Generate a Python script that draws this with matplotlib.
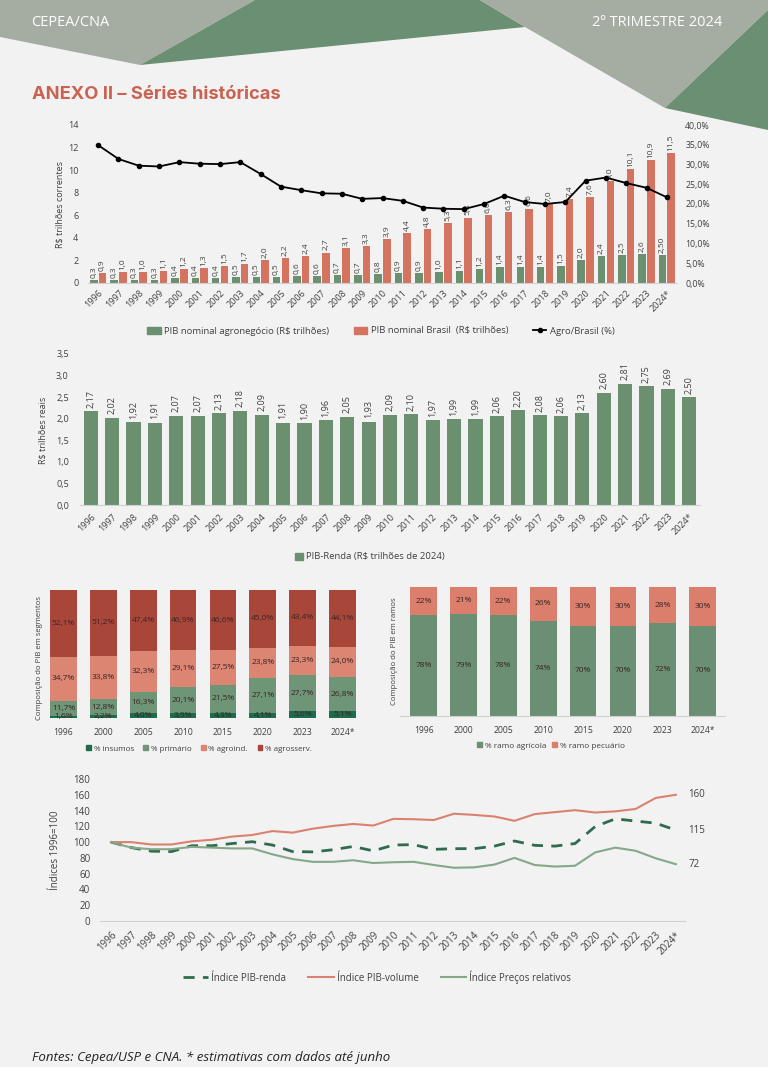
import matplotlib
matplotlib.use('Agg')
import matplotlib.pyplot as plt
from matplotlib.patches import Polygon, Patch
from matplotlib.lines import Line2D
from matplotlib.ticker import FuncFormatter
import numpy as np

W, H = 768, 1067
plt.rcParams['font.family'] = ['Open Sans', 'DejaVu Sans']

# ---------------- data ----------------
years = [str(y) for y in range(1996, 2024)] + ['2024*']
agro_nominal = [0.3, 0.3, 0.3, 0.3, 0.4, 0.4, 0.4, 0.5, 0.5, 0.5, 0.6, 0.6, 0.7, 0.7, 0.8,
                0.9, 0.9, 1.0, 1.1, 1.2, 1.4, 1.4, 1.4, 1.5, 2.0, 2.4, 2.5, 2.6, 2.50]
brasil_nominal = [0.9, 1.0, 1.0, 1.1, 1.2, 1.3, 1.5, 1.7, 2.0, 2.2, 2.4, 2.7, 3.1, 3.3, 3.9,
                  4.4, 4.8, 5.3, 5.8, 6.0, 6.3, 6.6, 7.0, 7.4, 7.6, 9.0, 10.1, 10.9, 11.5]
agro_share = [34.9, 31.4, 29.7, 29.5, 30.6, 30.2, 30.1, 30.6, 27.6, 24.4, 23.5, 22.7, 22.6, 21.3,
              21.5, 20.8, 19.1, 18.8, 18.7, 20.0, 22.1, 20.5, 20.0, 20.5, 25.9, 26.7, 25.3, 24.1, 21.7]

pib_renda = [2.17, 2.02, 1.92, 1.91, 2.07, 2.07, 2.13, 2.18, 2.09, 1.91, 1.90, 1.96, 2.05, 1.93,
             2.09, 2.10, 1.97, 1.99, 1.99, 2.06, 2.20, 2.08, 2.06, 2.13, 2.60, 2.81, 2.75, 2.69, 2.50]

seg_years = ['1996', '2000', '2005', '2010', '2015', '2020', '2023', '2024*']
seg_insumos = [1.6, 2.2, 4.0, 3.9, 4.3, 4.1, 5.6, 5.1]
seg_primario = [11.7, 12.8, 16.3, 20.1, 21.5, 27.1, 27.7, 26.8]
seg_agroind = [34.7, 33.8, 32.3, 29.1, 27.5, 23.8, 23.3, 24.0]
seg_agrosserv = [52.1, 51.2, 47.4, 46.9, 46.6, 45.0, 43.4, 44.1]

ramo_agricola = [78, 79, 78, 74, 70, 70, 72, 70]
ramo_pecuario = [22, 21, 22, 26, 30, 30, 28, 30]

idx_renda = [100, 93.1, 88.5, 88.0, 95.4, 95.4, 98.2, 100.5, 96.3, 88.0, 87.6, 90.3, 94.5, 88.9,
             96.3, 96.8, 90.8, 91.7, 91.7, 94.9, 101.4, 95.9, 94.9, 98.2, 119.8, 129.5, 126.7, 124.0, 115.2]
idx_volume = [100, 100, 97, 97, 101, 103, 107, 109, 114, 112, 117, 120.5, 123, 121,
              129.5, 129, 128, 136, 134.5, 132.5, 127, 135.5, 138, 140.5, 137.5, 139, 142, 156, 160]
idx_precos = [100, 93, 91, 91, 94, 93, 92, 92, 84.5, 78.5, 75, 75, 77, 73.5,
              74.5, 75, 71, 67.5, 68, 71.5, 80, 71, 69, 70, 87, 93, 89, 79.5, 72]

# ---------------- style ----------------
BG = '#f2f2f2'
GREEN = '#6a9070'
RED = '#d4735f'
TXT = '#404040'
AXLINE = '#d0d0d0'

fig = plt.figure(figsize=(W / 100, H / 100), dpi=100, facecolor=BG)


def add_ax(l, t, r, b):
    ax = fig.add_axes([l / W, 1 - b / H, (r - l) / W, (b - t) / H])
    ax.set_facecolor('none')
    for s in ax.spines.values():
        s.set_visible(False)
    return ax


def ftext(x, y, s, **kw):
    return fig.text(x / W, 1 - y / H, s, **kw)


def fpoly(pts, color):
    p = Polygon([(x / W, 1 - y / H) for x, y in pts], closed=True, transform=fig.transFigure,
                facecolor=color, edgecolor='none', zorder=0)
    fig.patches.append(p)


def comma(v, d=1):
    return f"{v:.{d}f}".replace('.', ',')


# ---------------- header ----------------
LIGHT = '#a5ada2'
DARK = '#6b8f72'
fpoly([(0, 0), (255, 0), (140, 65), (0, 37)], LIGHT)
fpoly([(255, 0), (480, 0), (525, 27), (140, 65)], DARK)
fpoly([(480, 0), (768, 0), (768, 10), (665, 108), (525, 27)], LIGHT)
fpoly([(768, 10), (768, 130), (665, 108)], DARK)
ftext(31, 22, 'CEPEA/CNA', color='white', fontsize=10.5, va='center', ha='left')
ftext(722, 22, '2º TRIMESTRE 2024', color='white', fontsize=10.5, va='center', ha='right')
ftext(32, 95, 'ANEXO II – Séries históricas', color='#c96250', fontsize=13.2, fontweight='bold',
      family=['Inter', 'DejaVu Sans'], va='center', ha='left')

# ---------------- chart 1 ----------------
n = len(years)
x = np.arange(n)
ax1 = add_ax(88, 125, 677, 283)
w = 0.37
ax1.bar(x - w / 2 - 0.03, agro_nominal, w, color=GREEN, zorder=2)
ax1.bar(x + w / 2 + 0.03, brasil_nominal, w, color=RED, zorder=2)
ax1.set_xlim(-0.5, n - 0.5)
ax1.set_ylim(0, 14)
ax1.set_yticks(range(0, 15, 2))
ax1.spines['bottom'].set_visible(True)
ax1.spines['bottom'].set_color(AXLINE)
ax1.set_xticks(x)
ax1.set_xticklabels(years, rotation=45, ha='right', va='top', rotation_mode='anchor')
ax1.tick_params(axis='both', length=0, labelsize=6.5, colors=TXT)
ax1.tick_params(axis='y', pad=7)
ax1.tick_params(axis='x', pad=4)
for i, (a, b) in enumerate(zip(agro_nominal, brasil_nominal)):
    la = comma(a, 2) if years[i].endswith('*') else comma(a, 1)
    ax1.annotate(la, (i - w / 2 - 0.03, a), xytext=(0, 1.5), textcoords='offset points',
                 rotation=90, ha='center', va='bottom', fontsize=6, color=TXT)
    ax1.annotate(comma(b, 1), (i + w / 2 + 0.03, b), xytext=(0, 1.5), textcoords='offset points',
                 rotation=90, ha='center', va='bottom', fontsize=6, color=TXT)
ax1r = ax1.twinx()
ax1r.set_facecolor('none')
for s in ax1r.spines.values():
    s.set_visible(False)
ax1r.plot(x, agro_share, color='black', lw=1.3, marker='o', ms=3, zorder=5)
ax1r.set_ylim(0, 40)
ax1r.set_yticks(range(0, 41, 5))
ax1r.yaxis.set_major_formatter(FuncFormatter(lambda v, p: comma(v, 1) + '%'))
ax1r.tick_params(axis='y', length=0, labelsize=6.3, colors=TXT, pad=6)
ftext(60, 205, 'R$ trilhões correntes', rotation=90, fontsize=6.5, color=TXT, ha='center', va='center')
h1 = [Patch(color=GREEN), Patch(color=RED),
      Line2D([], [], color='black', lw=1.3, marker='o', ms=3)]
fig.legend(h1, ['PIB nominal agronegócio (R$ trilhões)', 'PIB nominal Brasil  (R$ trilhões)',
                'Agro/Brasil (%)'], loc='center', bbox_to_anchor=(381 / W, 1 - 331 / H), ncol=3,
           frameon=False, fontsize=6.8, handlelength=1.4, handleheight=0.8, columnspacing=2.6,
           handletextpad=0.4, labelcolor=TXT)

# ---------------- chart 2 ----------------
ax2 = add_ax(80, 354, 700, 505)
ax2.bar(x, pib_renda, 0.66, color=GREEN, zorder=2)
ax2.set_xlim(-0.5, n - 0.5)
ax2.set_ylim(0, 3.5)
ax2.set_yticks(np.arange(0, 3.51, 0.5))
ax2.yaxis.set_major_formatter(FuncFormatter(lambda v, p: comma(v, 1)))
ax2.spines['bottom'].set_visible(True)
ax2.spines['bottom'].set_color(AXLINE)
ax2.set_xticks(x)
ax2.set_xticklabels(years, rotation=45, ha='right', va='top', rotation_mode='anchor')
ax2.tick_params(axis='both', length=0, labelsize=6.5, colors=TXT)
ax2.tick_params(axis='y', pad=8)
ax2.tick_params(axis='x', pad=5)
for i, v in enumerate(pib_renda):
    ax2.annotate(comma(v, 2), (i, v), xytext=(0, 2.5), textcoords='offset points', rotation=90,
                 ha='center', va='bottom', fontsize=6.5, color=TXT)
ftext(43, 430, 'R$ trilhões reais', rotation=90, fontsize=6.5, color=TXT, ha='center', va='center')
fig.legend([Patch(color=GREEN)], ['PIB-Renda (R$ trilhões de 2024)'], loc='center',
           bbox_to_anchor=(370 / W, 1 - 557 / H), frameon=False, fontsize=6.8, handlelength=0.8,
           handleheight=0.8, handletextpad=0.4, labelcolor=TXT)

# ---------------- chart 3 ----------------
C_INS = '#1f6b4d'
C_PRI = '#6e9576'
C_AGI = '#dc8572'
C_AGS = '#a9463a'
LAB = '#3a2424'
m = len(seg_years)
xs = np.arange(m)
ax3 = add_ax(45, 590, 362, 718)
bottom = np.zeros(m)
for vals, col in [(seg_insumos, C_INS), (seg_primario, C_PRI), (seg_agroind, C_AGI), (seg_agrosserv, C_AGS)]:
    vals = np.array(vals)
    ax3.bar(xs, vals, 0.67, bottom=bottom, color=col, zorder=2)
    for i in range(m):
        ax3.text(xs[i], bottom[i] + vals[i] / 2, comma(vals[i], 1) + '%', ha='center', va='center',
                 fontsize=6, color=LAB, zorder=3)
    bottom = bottom + vals
ax3.set_xlim(-0.464, 7.49)
ax3.set_ylim(0, 100.1)
ax3.set_yticks([])
ax3.set_xticks(xs)
ax3.set_xticklabels(seg_years)
ax3.tick_params(axis='x', length=0, labelsize=6.2, colors=TXT, pad=7)
ftext(40, 658, 'Composição do PIB em segmentos', rotation=90, fontsize=5.6, color=TXT,
      ha='center', va='center')
fig.legend([Patch(color=c) for c in (C_INS, C_PRI, C_AGI, C_AGS)],
           ['% insumos', '% primário', '% agroind.', '% agrosserv.'], loc='center',
           bbox_to_anchor=(199 / W, 1 - 749 / H), ncol=4, frameon=False, fontsize=5.8,
           handlelength=0.6, handleheight=0.6, handletextpad=0.3, columnspacing=1.2, labelcolor=TXT)

# ---------------- chart 4 ----------------
C_AGR = '#6b8f72'
C_PEC = '#db7f6c'
ax4 = add_ax(400, 587, 725, 716)
agr = np.array(ramo_agricola)
pec = np.array(ramo_pecuario)
ax4.bar(xs, agr, 0.67, color=C_AGR, zorder=2)
ax4.bar(xs, pec, 0.67, bottom=agr, color=C_PEC, zorder=2)
for i in range(m):
    ax4.text(xs[i], agr[i] / 2, f"{agr[i]}%", ha='center', va='center', fontsize=6, color=LAB, zorder=3)
    ax4.text(xs[i], agr[i] + pec[i] / 2, f"{pec[i]}%", ha='center', va='center', fontsize=6,
             color=LAB, zorder=3)
ax4.set_xlim(-0.59, 7.56)
ax4.set_ylim(0, 100)
ax4.set_yticks([])
ax4.spines['bottom'].set_visible(True)
ax4.spines['bottom'].set_color(AXLINE)
ax4.set_xticks(xs)
ax4.set_xticklabels(seg_years)
ax4.tick_params(axis='x', length=0, labelsize=6.2, colors=TXT, pad=7)
ftext(395, 651, 'Composição do PIB em ramos', rotation=90, fontsize=5.6, color=TXT,
      ha='center', va='center')
fig.legend([Patch(color=C_AGR), Patch(color=C_PEC)], ['% ramo agrícola', '% ramo pecuário'],
           loc='center', bbox_to_anchor=(551 / W, 1 - 746 / H), ncol=2, frameon=False,
           fontsize=5.9, handlelength=0.6, handleheight=0.6, handletextpad=0.3,
           columnspacing=0.8, labelcolor=TXT)

# ---------------- chart 5 ----------------
C_REN = '#2e6b4f'
C_VOL = '#d9826f'
C_PRE = '#84a889'
ax5 = add_ax(100, 779, 685, 921)
ax5.plot(x, idx_renda, color=C_REN, lw=2, dashes=(4, 3), zorder=3)
ax5.plot(x, idx_volume, color=C_VOL, lw=1.5, zorder=3)
ax5.plot(x, idx_precos, color=C_PRE, lw=1.5, zorder=3)
ax5.set_xlim(-0.545, 28.45)
ax5.set_ylim(0, 180)
ax5.set_yticks(range(0, 181, 20))
ax5.spines['bottom'].set_visible(True)
ax5.spines['bottom'].set_color(AXLINE)
ax5.set_xticks(x)
ax5.set_xticklabels(years, rotation=45, ha='right', va='top', rotation_mode='anchor')
ax5.tick_params(axis='both', length=0, labelsize=7, colors=TXT)
ax5.tick_params(axis='y', pad=7)
ax5.tick_params(axis='x', pad=6)
for series in (idx_volume, idx_renda, idx_precos):
    ax5.annotate(f"{series[-1]:.0f}", (x[-1], series[-1]), xytext=(9, 0), textcoords='offset points',
                 ha='left', va='center', fontsize=7, color=TXT, annotation_clip=False)
ftext(56, 850, 'Índices 1996=100', rotation=90, fontsize=7, color=TXT, ha='center', va='center')
fig.legend([Line2D([], [], color=C_REN, lw=2, dashes=(4, 3)), Line2D([], [], color=C_VOL, lw=1.5),
            Line2D([], [], color=C_PRE, lw=1.5)],
           ['Índice PIB-renda', 'Índice PIB-volume', 'Índice Preços relativos'], loc='center',
           bbox_to_anchor=(377 / W, 1 - 977 / H), ncol=3, frameon=False, fontsize=7,
           handlelength=2.6, handletextpad=0.3, columnspacing=2.3, labelcolor=TXT)

# ---------------- footer ----------------
ftext(32, 1057, 'Fontes: Cepea/USP e CNA. * estimativas com dados até junho', fontsize=9.5,
      style='italic', color='#222222', ha='left', va='center')

fig.savefig('out.png', dpi=100, facecolor=BG)
